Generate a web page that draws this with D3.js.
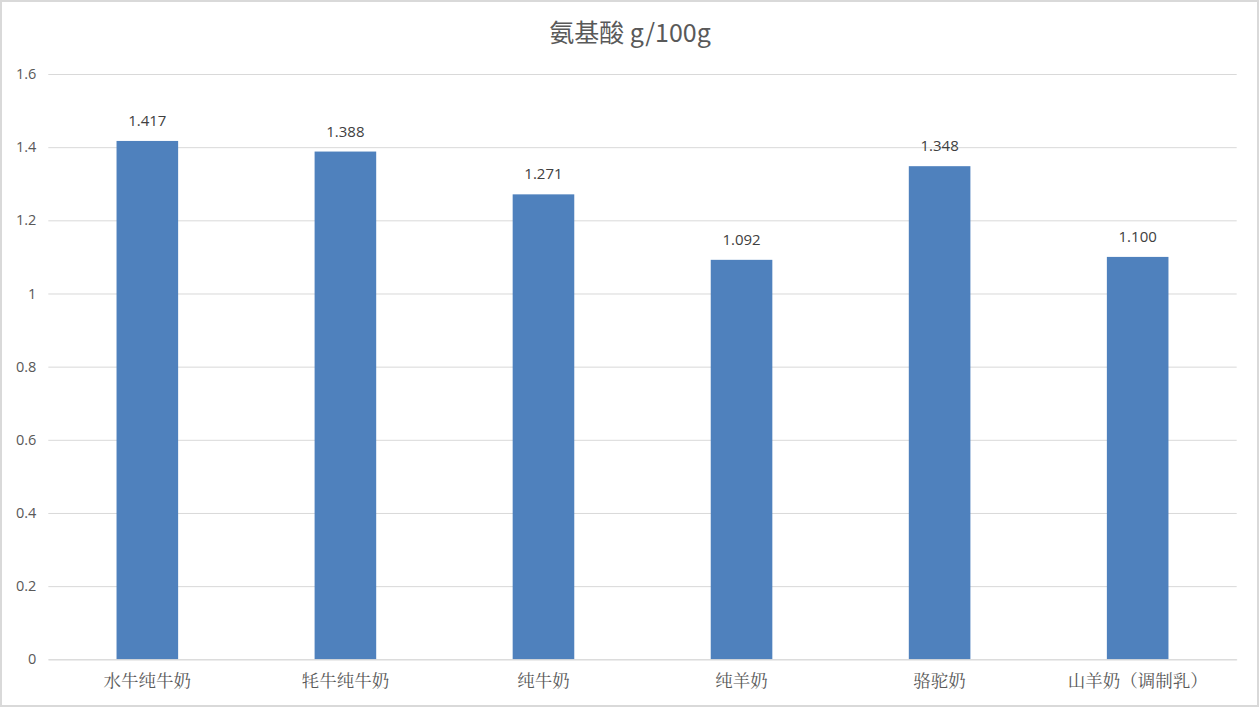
<!DOCTYPE html>
<html><head><meta charset="utf-8">
<script src="https://cdn.jsdelivr.net/npm/d3@7"></script>
<style>html,body{margin:0;padding:0;background:#fff;}svg{display:block;}</style>
</head><body>
<script>
const categories = ["水牛纯牛奶","牦牛纯牛奶","纯牛奶","纯羊奶","骆驼奶","山羊奶（调制乳）"];
const values = [1.417, 1.388, 1.271, 1.092, 1.348, 1.100];
const yTicks = [0, 0.2, 0.4, 0.6, 0.8, 1, 1.2, 1.4, 1.6];
const title = "氨基酸 g/100g";

const W = 1259, H = 707;
const svg = d3.select("body").append("svg").attr("width", W).attr("height", H);
svg.append("rect").attr("x",1).attr("y",1).attr("width",W-2).attr("height",H-2)
  .attr("fill","#fff").attr("stroke","#d9d9d9").attr("stroke-width",2);

const pL = 48.3, pR = 1236.7, pT = 74, pB = 659.3;
const x = d3.scaleBand().domain(categories).range([pL, pR]).paddingInner(0.689).paddingOuter(0.3445);
const y = d3.scaleLinear().domain([0, 1.6]).range([pB, pT]);

svg.append("text").attr("x", 630).attr("y", 42).attr("text-anchor","middle")
  .attr("font-family","'Noto Sans CJK SC', 'Noto Sans', sans-serif").attr("font-size",25)
  .attr("fill","#595959").text(title);

const gy = svg.append("g").attr("transform",`translate(${pL},0)`)
  .call(d3.axisLeft(y).tickValues(yTicks).tickSize(-(pR-pL)).tickFormat(d3.format("")));
gy.select(".domain").remove();
gy.selectAll(".tick line").attr("stroke","#d9d9d9").attr("stroke-width",1);
gy.selectAll(".tick text").attr("x",-12).attr("fill","#595959")
  .attr("font-family","'Open Sans','Liberation Sans',sans-serif").attr("font-size",14.5);

svg.selectAll("rect.bar").data(values).join("rect").attr("class","bar")
  .attr("x",(d,i)=>x(categories[i])).attr("width",x.bandwidth())
  .attr("y",d=>y(d)).attr("height",d=>pB-y(d)).attr("fill","#4f81bd");

svg.selectAll("text.val").data(values).join("text").attr("class","val")
  .attr("x",(d,i)=>x(categories[i])+x.bandwidth()/2).attr("y",d=>y(d)-15)
  .attr("text-anchor","middle").attr("fill","#404040")
  .attr("font-family","'Open Sans','Liberation Sans',sans-serif").attr("font-size",15)
  .text(d=>d3.format(".3f")(d));

const gx = svg.append("g").attr("transform",`translate(0,${pB})`)
  .call(d3.axisBottom(x).tickSize(0).tickPadding(15));
gx.select(".domain").attr("stroke","#d9d9d9");
gx.selectAll(".tick text").attr("fill","#595959")
  .attr("font-family","'Noto Serif CJK SC','Noto Sans CJK SC',serif").attr("font-size",17.5);
</script>
</body></html>
